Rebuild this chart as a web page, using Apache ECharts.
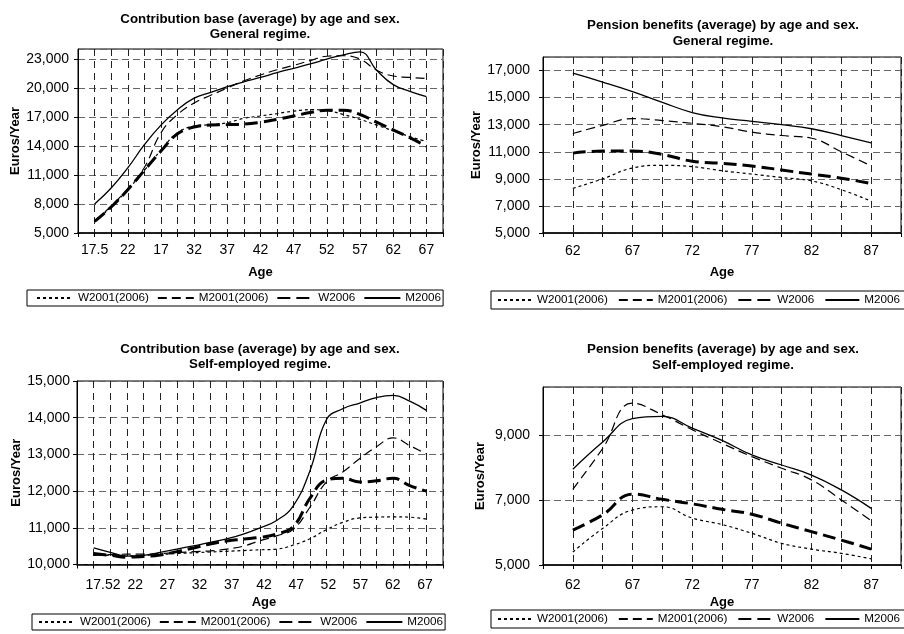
<!DOCTYPE html>
<html><head><meta charset="utf-8">
<script src="https://cdn.jsdelivr.net/npm/echarts@6/dist/echarts.min.js"></script>
<style>html,body{margin:0;padding:0;background:#fff}#c{width:904px;height:634px}</style>
</head><body><div id="c"></div>
<script>
const seriesNames = ['W2001(2006)', 'M2001(2006)', 'W2006', 'M2006'];

// Panel A: Contribution base, General regime (ages 17.5 .. 67.5 step 2.5)
const genContribAges = ['15','17.5','20','22.5','25','27.5','30','32.5','35','37.5','40','42.5','45','47.5','50','52.5','55','57.5','60','62.5','65','67.5','70'];
const genContribTicks = ['17.5','22','17','32','37','42','47','52','57','62','67'];
const genContribW2001 = [6200,7700,9500,11500,13600,15400,16100,16250,16450,16900,17150,17400,17650,17800,17700,17300,16800,16200,15600,15000,14500];
const genContribM2001 = [6200,7800,9600,11800,15400,17300,18500,19300,20050,20800,21400,21950,22400,22900,23350,23400,23050,21900,21300,21150,21050];
const genContribW2006 = [6200,7700,9500,11500,13500,15300,16000,16200,16250,16300,16500,16800,17150,17500,17750,17750,17300,16500,15700,14900,14000];
const genContribM2006 = [8000,9670,11750,14170,16200,17800,19000,19600,20200,20700,21150,21650,22100,22550,23050,23500,23800,21900,20400,19700,19150];

// Panel B: Pension benefits, General regime (ages 62 .. 87 step 2.5)
const genPensionAges = ['59.5','62','64.5','67','69.5','72','74.5','77','79.5','82','84.5','87','89.5'];
const genPensionTicks = ['62','67','72','77','82','87'];
const genPensionW2001 = [8300,9000,9800,10000,9900,9600,9350,9100,8850,8200,7350];
const genPensionM2001 = [12350,12950,13450,13300,13100,12850,12450,12200,12000,11000,9950];
const genPensionW2006 = [10900,11050,11050,10800,10300,10150,9950,9650,9350,9050,8650];
const genPensionM2006 = [16800,16150,15450,14650,13900,13500,13250,13000,12700,12200,11650];

// Panel C: Contribution base, Self-employed regime
const selfContribAges = genContribAges;
const selfContribTicks = ['17.52','22','27','32','37','42','47','52','57','62','67'];
const selfContribW2001 = [10250,10250,10230,10250,10270,10300,10320,10340,10360,10380,10400,10420,10530,10700,10950,11150,11270,11290,11300,11290,11240];
const selfContribM2001 = [10250,10270,10280,10280,10300,10320,10350,10370,10420,10500,10650,10780,10960,11560,12250,12530,12890,13210,13450,13240,13010];
const selfContribW2006 = [10300,10250,10200,10220,10260,10350,10450,10560,10640,10690,10740,10830,11030,11800,12300,12350,12250,12280,12350,12150,12000];
const selfContribM2006 = [10450,10330,10230,10250,10330,10420,10510,10600,10700,10830,11000,11200,11600,12550,13950,14250,14400,14550,14610,14450,14200];

// Panel D: Pension benefits, Self-employed regime
const selfPensionAges = genPensionAges;
const selfPensionTicks = ['62','67','72','77','82','87'];
const selfPensionW2001 = [5400,6130,6700,6800,6450,6250,5980,5670,5490,5360,5190];
const selfPensionM2001 = [7340,8600,10000,9640,9180,8760,8350,7990,7630,7010,6370];
const selfPensionW2006 = [6080,6550,7190,7030,6890,6720,6570,6290,6030,5770,5490];
const selfPensionM2006 = [7960,8800,9520,9590,9230,8850,8400,8090,7780,7320,6750];

const FONT = 'Liberation Sans, Arial, Helvetica, sans-serif';
const styles = {
  'W2001(2006)': {type: [3, 3], width: 1.2},
  'M2001(2006)': {type: [9, 5], width: 1.2},
  'W2006': {type: [13, 6], width: 3},
  'M2006': {type: 'solid', width: 1.3}
};
const fmtNum = v => String(v).replace(/\B(?=(\d{3})+(?!\d))/g, ',');
const pad = arr => [null].concat(arr, [null]);

function mkSeries(vals, xi, yi) {
  return seriesNames.map((n, k) => ({
    name: n, type: 'line', xAxisIndex: xi, yAxisIndex: yi,
    data: pad(vals[k]), smooth: 0.45, symbol: 'none', showSymbol: false,
    lineStyle: {color: '#000', type: styles[n].type, width: styles[n].width},
    itemStyle: {color: '#000'}, z: 3 + k, animation: false
  }));
}

function xAx(gi, cats, ticks, margin, withLabels) {
  return {
    type: 'category', gridIndex: gi, data: cats, boundaryGap: false,
    axisLine: {show: true, lineStyle: {color: '#000', width: 1.5}},
    axisTick: {show: true, interval: 0, length: 4, lineStyle: {color: '#000'}},
    axisLabel: {show: withLabels, interval: 0, margin: margin, fontSize: 14, color: '#000', fontFamily: FONT,
      formatter: (v, i) => (i % 2 === 1 ? ticks[(i - 1) / 2] : '')},
    splitLine: {show: true, interval: 0, lineStyle: {color: '#222', type: [7, 5], width: 1}},
    name: 'Age', nameLocation: 'middle', nameGap: 33,
    nameTextStyle: {fontSize: 13, fontWeight: 'bold', color: '#000', fontFamily: FONT}
  };
}
function yAx(gi, min, max, interval, labelMargin, nameGap, showMax) {
  return {
    type: 'value', gridIndex: gi, min: min, max: max, interval: interval,
    axisLine: {show: true, lineStyle: {color: '#000', width: 1}},
    axisTick: {show: true, length: 4, lineStyle: {color: '#000'}},
    axisLabel: {showMaxLabel: !!showMax, margin: labelMargin, fontSize: 14, color: '#000', fontFamily: FONT, formatter: fmtNum},
    splitLine: {show: true, lineStyle: {color: '#666', type: [7, 4], width: 1}},
    name: 'Euros/Year', nameLocation: 'middle', nameGap: nameGap, nameRotate: 90,
    nameTextStyle: {fontSize: 13, fontWeight: 'bold', color: '#000', fontFamily: FONT}
  };
}
function legend(left, top, padding, itemWidth, itemGap) {
  return {
    show: true, left: left, top: top, width: 460, orient: 'horizontal',
    data: seriesNames.map(n => ({name: n})),
    itemWidth: itemWidth, itemHeight: 10, itemGap: itemGap, padding: padding,
    borderColor: '#000', borderWidth: 1, borderRadius: 0, backgroundColor: '#fff',
    selectedMode: false,
    itemStyle: {opacity: 0},
    textStyle: {fontSize: 11.7, color: '#000', fontFamily: FONT}
  };
}
function title(x, top, text, lh) {
  return {
    text: text, left: x, top: top, textAlign: 'center', padding: 0,
    textStyle: {fontSize: 13.3, fontWeight: 'bold', color: '#000', fontFamily: FONT, lineHeight: lh}
  };
}

const chart = echarts.init(document.getElementById('c'), null, {renderer: 'canvas'});
const xC = xAx(2, selfContribAges, selfContribTicks, 13, false);
xC.axisLabel.show = false;
xC.name = '';
const option = {
  animation: false,
  backgroundColor: '#fff',
  title: [
    title(260, 11.5, 'Contribution base (average) by age and sex.\nGeneral regime.', 15),
    title(723, 17, 'Pension benefits (average) by age and sex.\nGeneral regime.', 16.5),
    title(260, 341.5, 'Contribution base (average) by age and sex.\nSelf-employed regime.', 15),
    title(723, 341, 'Pension benefits (average) by age and sex.\nSelf-employed regime.', 16)
  ],
  grid: [
    {left: 78, top: 49, width: 365, height: 184, show: true, borderColor: '#000', borderWidth: 1},
    {left: 543, top: 57, width: 362, height: 176, show: true, borderColor: '#000', borderWidth: 1},
    {left: 77, top: 381, width: 366, height: 183.5, show: true, borderColor: '#000', borderWidth: 1},
    {left: 543, top: 387, width: 362, height: 178, show: true, borderColor: '#000', borderWidth: 1},
    {left: 103, top: 381, width: 322, height: 183.5, show: false}
  ],
  xAxis: [
    xAx(0, genContribAges, genContribTicks, 10, true),
    xAx(1, genPensionAges, genPensionTicks, 11, true),
    xC,
    Object.assign(xAx(3, selfPensionAges, selfPensionTicks, 13, true), {nameGap: 31}),
    {type: 'category', gridIndex: 4, data: selfContribTicks, boundaryGap: false,
     axisLine: {show: false}, axisTick: {show: false}, splitLine: {show: false},
     axisLabel: {show: true, interval: 0, margin: 14, fontSize: 14, color: '#000', fontFamily: FONT},
     name: 'Age', nameLocation: 'middle', nameGap: 31,
     nameTextStyle: {fontSize: 13, fontWeight: 'bold', color: '#000', fontFamily: FONT}}
  ],
  yAxis: [
    yAx(0, 5000, 24100, 3000, 9, 54, false),
    yAx(1, 5000, 18000, 2000, 13, 54, false),
    yAx(2, 10000, 15000, 1000, 7, 53, true),
    yAx(3, 5000, 10500, 2000, 13, 56, false),
    {type: 'value', gridIndex: 4, show: false, min: 0, max: 1}
  ],
  legend: [
    legend(27, 290, [2, 2, 2, 9], 36, 8),
    legend(491, 291, [3, 15, 3, 6], 34, 10),
    legend(32, 614, [2, 2, 2, 6], 36, 8),
    legend(491, 610, [3, 15, 3, 6], 34, 10)
  ],
  series: [].concat(
    mkSeries([genContribW2001, genContribM2001, genContribW2006, genContribM2006], 0, 0),
    mkSeries([genPensionW2001, genPensionM2001, genPensionW2006, genPensionM2006], 1, 1),
    mkSeries([selfContribW2001, selfContribM2001, selfContribW2006, selfContribM2006], 2, 2),
    mkSeries([selfPensionW2001, selfPensionM2001, selfPensionW2006, selfPensionM2006], 3, 3)
  )
};
chart.setOption(option);
</script>
</body></html>
